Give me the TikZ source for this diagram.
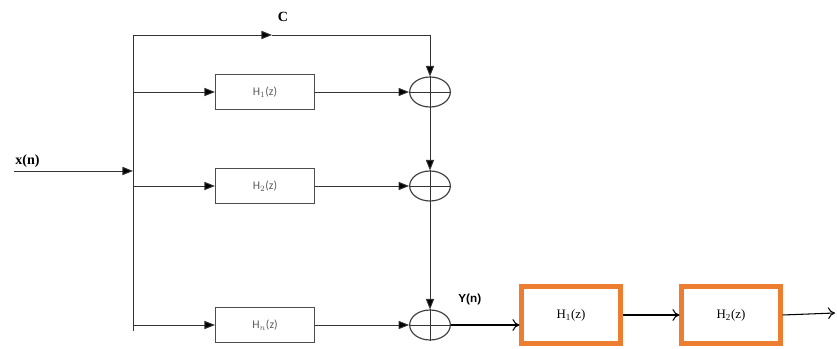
\documentclass[tikz,border=0pt]{standalone}
\usepackage{fontspec}
\setmainfont{Liberation Serif}
\newfontfamily\boxfont{Carlito}
\newfontfamily\lblsans{Liberation Sans}
\usetikzlibrary{shapes.geometric,arrows.meta}
\definecolor{offorange}{RGB}{237,125,49}
\begin{document}
\begin{tikzpicture}[x=0.03cm,y=-0.03cm,
  wire/.style={draw=black!80, line width=0.8pt},
  fil/.style={wire,-{Triangle[length=9pt,width=7pt,fill=black]}},
  opn/.style={draw=black, line width=0.9pt,-{To[length=6pt,width=10pt]}},
  hbox/.style={draw=black!70, line width=1pt, minimum width=2.97cm, minimum height=1.05cm, inner sep=0pt, font=\boxfont\fontsize{10}{11}\selectfont, text=black!65},
  obox/.style={draw=offorange, line width=4pt, minimum width=2.95cm, minimum height=1.7cm, inner sep=0pt, font=\fontsize{11}{12}\selectfont},
  summer/.style={draw=black!75, line width=1pt, ellipse, minimum width=1.22cm, minimum height=0.9cm, inner sep=0pt},
  lbl/.style={font=\bfseries\fontsize{12}{14}\selectfont, inner sep=1pt}
]
\useasboundingbox (0,0) rectangle (837,349);
% bus
\coordinate (btop) at (133,35);
\coordinate (bbot) at (133,331);
\coordinate (bin) at (133,171);
\coordinate (xin) at (14,171);
\coordinate (b1) at (133,92);
\coordinate (b2) at (133,186);
\coordinate (b3) at (133,325);
\coordinate (corner) at (430,35);
\coordinate (cmid) at (272,35);
\coordinate (outend) at (835,313);
% blocks
\node[hbox] (h1) at (265,92) {H$_{1}$(z)};
\node[hbox] (h2) at (265,186) {H$_{2}$(z)};
\node[hbox] (h3) at (265,325) {H$_{n}$(z)};
\node[summer] (s1) at (430,92) {};
\node[summer] (s2) at (430,186) {};
\node[summer] (s3) at (430,325) {};
\node[obox] (g1) at (571,315) {H\textsubscript{1}(z)};
\node[obox] (g2) at (731,315) {H\textsubscript{2}(z)};
% plus signs
\foreach \s in {s1,s2,s3}{
  \draw[wire] (\s.north) -- (\s.south);
  \draw[wire] (\s.west) -- (\s.east);
}
% labels
\node[lbl,anchor=south west] (xl) at (14,169) {x(n)};
\node[lbl] (cl) at (283,17) {C};
\node[lbl,font=\lblsans\bfseries\fontsize{10}{12}\selectfont,anchor=south west] (yl) at (457,306) {Y(n)};
% wires
\draw[wire] (btop) -- (bbot);
\draw[fil] (xin) -- (bin);
\draw[fil] (btop) -- (cmid);
\draw[fil] (cmid) -- (corner) -- (s1.north);
\draw[fil] (b1) -- (h1.west);
\draw[fil] (b2) -- (h2.west);
\draw[wire] (bbot) -- (b3);
\draw[fil] (b3) -- (h3.west);
\draw[fil] (h1.east) -- (s1.west);
\draw[fil] (h2.east) -- (s2.west);
\draw[fil] (h3.east) -- (s3.west);
\draw[fil] (s1.south) -- (s2.north);
\draw[fil] (s2.south) -- (s3.north);
\draw[opn] (s3.east) -- (g1.west |- s3.east);
\draw[opn] (g1.east) -- (g2.west);
\draw[opn] (g2.east) -- (outend);
\end{tikzpicture}
\end{document}
